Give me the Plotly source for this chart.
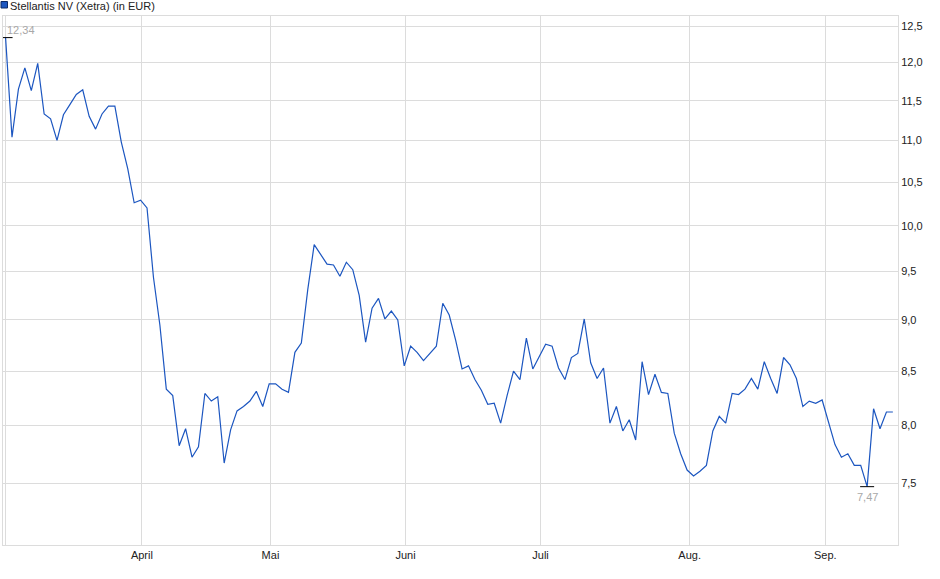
import numpy as np
import plotly.graph_objects as go

# Schlusskurse Stellantis NV (Xetra), je Handelstag, in EUR
kurse_maerz = [12.34, 11.04, 11.65, 11.93, 11.63, 11.99, 11.33, 11.27, 11.00, 11.32,
               11.45, 11.58, 11.64, 11.30, 11.14, 11.33, 11.43, 11.43, 10.98, 10.66,
               10.26, 10.29, 10.20]
kurse_april = [9.44, 8.95, 8.33, 8.27, 7.82, 7.97, 7.72, 7.81, 8.29, 8.22,
               8.26, 7.67, 7.96, 8.13, 8.17, 8.22, 8.31, 8.17, 8.38, 8.38,
               8.33, 8.30, 8.68, 8.77]
kurse_mai = [9.31, 9.79, 9.69, 9.58, 9.57, 9.45, 9.60, 9.52, 9.25, 8.78,
             9.12, 9.22, 9.01, 9.09, 9.00, 8.55, 8.74, 8.68, 8.60, 8.67,
             8.74, 9.17, 9.05]
kurse_juni = [8.80, 8.52, 8.55, 8.42, 8.32, 8.19, 8.20, 8.02, 8.27, 8.50,
              8.42, 8.82, 8.52, 8.64, 8.76, 8.74, 8.53, 8.42, 8.63, 8.67,
              9.01, 8.58, 8.43, 8.53, 8.02, 8.17]
kurse_juli = [7.95, 8.05, 7.87, 8.59, 8.28, 8.47, 8.30, 8.29, 7.93, 7.75,
              7.61, 7.56, 7.60, 7.65, 7.95, 8.08, 8.02, 8.29, 8.28, 8.33,
              8.43, 8.33, 8.59, 8.43, 8.29, 8.63]
kurse_aug = [8.56, 8.43, 8.17, 8.22, 8.20, 8.23, 8.02, 7.83, 7.72, 7.75,
             7.65, 7.65, 7.47, 8.15, 7.97, 8.12, 8.12]

kurse = kurse_maerz + kurse_april + kurse_mai + kurse_juni + kurse_juli + kurse_aug
tage = list(range(len(kurse)))

monate = ["", "April", "Mai", "Juni", "Juli", "Aug.", "Sep."]
monat_pos = [0, 21.2, 41.2, 62.2, 83.2, 106.4, 127.5]
y_ticks = [7.5, 8.0, 8.5, 9.0, 9.5, 10.0, 10.5, 11.0, 11.5, 12.0, 12.5]

blau = "#1c56c0"
grid = "#dcdcdc"

i_max = int(np.argmax(kurse))
i_min = int(np.argmin(kurse))

fig = go.Figure()
fig.add_trace(go.Scatter(
    x=tage, y=kurse, mode="lines",
    line=dict(color=blau, width=1.2),
    hoverinfo="y", showlegend=False
))
# Hoch/Tief-Markierung
fig.add_trace(go.Scatter(
    x=[i_max, i_min], y=[kurse[i_max], kurse[i_min]], mode="markers",
    marker=dict(symbol="line-ew", size=10, line=dict(color="black", width=1)),
    hoverinfo="skip", showlegend=False
))

def komma(v):
    return f"{v:.2f}".replace(".", ",")

fig.add_annotation(x=i_max, y=np.log10(kurse[i_max]), text=komma(kurse[i_max]),
                   showarrow=False, xanchor="left", yanchor="middle", yshift=8, xshift=-1,
                   font=dict(size=11, color="#a8a8a8"))
fig.add_annotation(x=i_min, y=np.log10(kurse[i_min]), text=komma(kurse[i_min]),
                   showarrow=False, xanchor="center", yanchor="middle", yshift=-10,
                   font=dict(size=11, color="#a8a8a8"))

# Legende oben links: Farbkästchen + Text
fig.add_shape(type="rect", xref="paper", yref="paper", xsizemode="pixel", ysizemode="pixel",
              xanchor=0, yanchor=1, x0=-2, x1=4.5, y0=8, y1=14.5,
              fillcolor=blau, line=dict(color="#0d2a66", width=1))
fig.add_annotation(xref="paper", yref="paper", x=0, y=1, xanchor="left", yanchor="middle",
                   xshift=5, yshift=10, showarrow=False,
                   text="Stellantis NV (Xetra) (in EUR)",
                   font=dict(size=11, color="#222222"))

fig.update_layout(
    width=940, height=579,
    margin=dict(l=3, r=42, t=16, b=34),
    plot_bgcolor="white", paper_bgcolor="white",
    font=dict(family="Liberation Sans, Arial, sans-serif", size=11, color="#222222"),
    separators=",.",
    showlegend=False,
    hovermode="x unified"
)
fig.update_xaxes(
    range=[-0.4, 138.8], tickvals=monat_pos, ticktext=monate,
    showgrid=True, gridcolor=grid, gridwidth=1,
    showline=True, linecolor=grid, mirror=True,
    ticks="", zeroline=False
)
fig.update_yaxes(
    type="log", range=[0.845, 1.1018], side="right",
    tickvals=y_ticks, tickformat=".1f",
    showgrid=True, gridcolor=grid, gridwidth=1,
    showline=True, linecolor=grid, mirror=True,
    ticks="", zeroline=False
)

fig.write_html("out.html", config={"displayModeBar": False},
               post_script="document.body.style.margin='0px';")
